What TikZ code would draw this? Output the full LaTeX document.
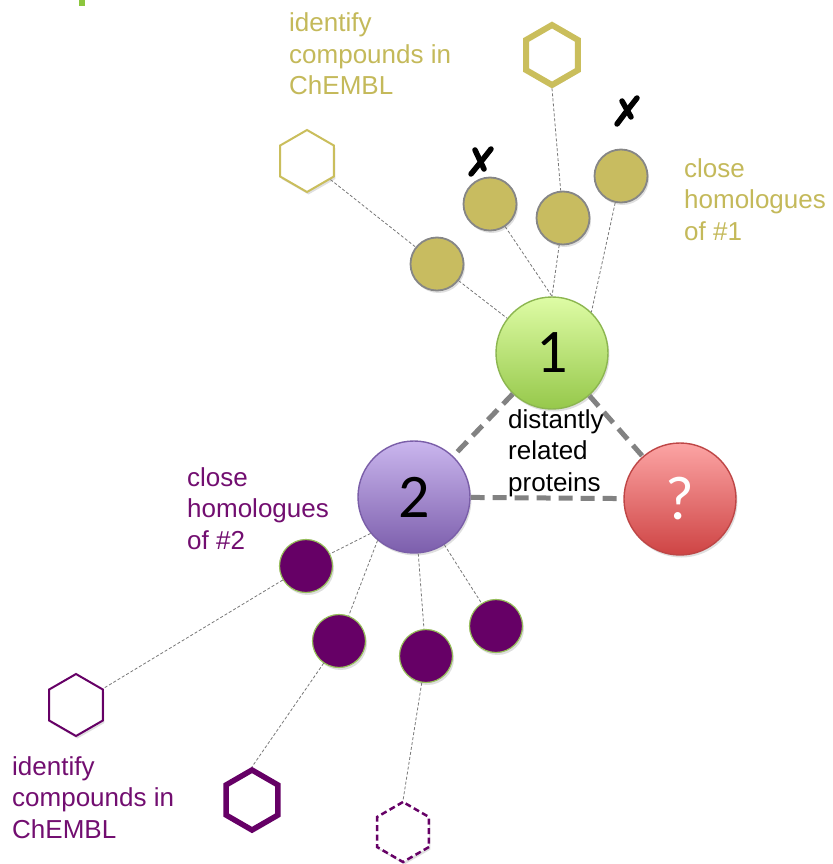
\documentclass[tikz,border=0pt]{standalone}
\usepackage{fontspec}
\setmainfont{Liberation Sans}
\newfontfamily\digitfont{Carlito}
\usetikzlibrary{shapes.geometric,shadows}

\definecolor{goldfill}{RGB}{200,188,96}
\definecolor{goldtext}{RGB}{196,185,90}
\definecolor{goldline}{RGB}{202,190,92}
\definecolor{plum}{RGB}{102,0,102}
\definecolor{plumtext}{RGB}{114,14,112}
\definecolor{leafrim}{RGB}{150,190,90}
\definecolor{linkgray}{RGB}{120,120,120}
\definecolor{barsgray}{RGB}{130,130,130}
\definecolor{markgreen}{RGB}{140,198,62}

\begin{document}
\begin{tikzpicture}[x=1pt,y=-1pt,
  softshadow/.style={drop shadow={opacity=0.25,shadow xshift=1.5pt,shadow yshift=-2.5pt}},
  goldball/.style={circle,draw=gray!95,line width=1.8pt,fill=goldfill,
    minimum size=53pt,inner sep=0pt,softshadow},
  plumball/.style={circle,draw=leafrim,line width=1.2pt,fill=plum,
    minimum size=53pt,inner sep=0pt,softshadow},
  bigball/.style={circle,line width=1.4pt,minimum size=112pt,inner sep=0pt,
    font=\digitfont\fontsize{62}{62}\selectfont,softshadow},
  hexa/.style={regular polygon,regular polygon sides=6,shape border rotate=30,
    inner sep=0pt,fill=white,softshadow},
  link/.style={draw=linkgray,line width=0.8pt,dash pattern=on 3pt off 2pt},
  relation/.style={draw=barsgray,line width=5pt,dash pattern=on 14pt off 8pt},
  caption/.style={align=left,anchor=base west,inner sep=0pt,
    font=\fontsize{26}{31.5}\selectfont},
  xstroke/.style={line width=5.5pt,line cap=round,black}
]
\useasboundingbox (0,0) rectangle (832,864);

% small green tab in the corner
\fill[markgreen] (79,0) rectangle (85,6);

% the three proteins
\node[bigball,draw={rgb,255:red,140;green,182;blue,80},
  top color={rgb,255:red,222;green,252;blue,165},
  bottom color={rgb,255:red,150;green,200;blue,75}] (one) at (552,353) {1};
\node[bigball,draw={rgb,255:red,122;green,94;blue,168},
  top color={rgb,255:red,202;green,182;blue,238},
  bottom color={rgb,255:red,124;green,94;blue,172}] (two) at (414,497) {2};
\node[bigball,text=white,draw={rgb,255:red,190;green,70;blue,70},
  top color={rgb,255:red,252;green,164;blue,164},
  bottom color={rgb,255:red,206;green,68;blue,68}] (unk) at (680,499) {?};

% close homologues of #1
\node[goldball] (ga) at (437,264) {};
\node[goldball] (gb) at (490,204) {};
\node[goldball] (gc) at (563,218) {};
\node[goldball] (gd) at (621,176) {};

% close homologues of #2
\node[plumball] (pa) at (306,566) {};
\node[plumball] (pb) at (339,641) {};
\node[plumball] (pc) at (426,656) {};
\node[plumball] (pd) at (496,626) {};

% compounds
\node[hexa,draw=goldline,line width=6pt,minimum size=60pt] (hgt) at (552,55) {};
\node[hexa,draw=goldline,line width=2pt,minimum size=62pt] (hgl) at (307,161) {};
\node[hexa,draw=plum,line width=2pt,minimum size=62pt] (hpl) at (76,705) {};
\node[hexa,draw=plum,line width=5.5pt,minimum size=60pt] (hpt) at (252,800) {};
\node[hexa,draw=plum,line width=2.5pt,dash pattern=on 6pt off 3.5pt,
  minimum size=60pt,drop shadow={opacity=0}] (hpd) at (403,832) {};

% links to protein 1
\draw[link] (hgl) -- (ga);
\draw[link] (ga) -- (one);
\draw[link] (gb) -- (one.north);
\draw[link] (gc) -- (one.north);
\draw[link] (gd) -- (one.46);
\draw[link] (hgt.south) -- (gc);

% links to protein 2
\draw[link] (two.220) -- (pa);
\draw[link] (two.230) -- (pb);
\draw[link] (two) -- (pc);
\draw[link] (two) -- (pd);
\draw[link] (pa) -- (hpl);
\draw[link] (pb) -- (hpt.north);
\draw[link] (pc) -- (hpd.north);

% distant relations
\draw[relation] (one) -- (two);
\draw[relation] (one) -- (unk);
\draw[relation] (two) -- (unk);

% rejected homologues
\draw[xstroke] (475,150) -- (484,169);
\draw[xstroke] (471,174) .. controls (480,163) .. (491,149);
\draw[xstroke] (622,101) -- (631,117);
\draw[xstroke] (617,124) .. controls (626,112) .. (637,98);

% captions (anchored at the baseline of their last line)
\node[caption,text=goldtext] (capgt) at (289,95) {identify\\compounds in\\ChEMBL};
\node[caption,text=goldtext] (capg) at (684,240) {close\\homologues\\of \#1};
\node[caption,text=plumtext] (capp) at (187,549) {close\\homologues\\of \#2};
\node[caption,text=plumtext] (cappb) at (12,838) {identify\\compounds in\\ChEMBL};
\node[caption,text=black] (capd) at (508,491) {distantly\\related\\proteins};
\end{tikzpicture}
\end{document}
